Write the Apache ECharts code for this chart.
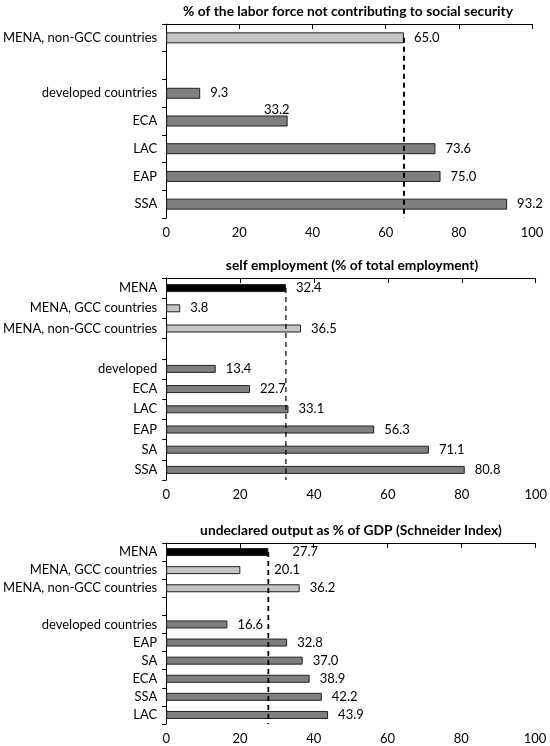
<!DOCTYPE html>
<html><head><meta charset="utf-8">
<script src="https://cdn.jsdelivr.net/npm/echarts@6/dist/echarts.min.js"></script>
<style>html,body{margin:0;padding:0;background:#fff}#c{width:550px;height:746px}</style>
</head><body><div id="c"></div>
<script>
// ---- data ----
const xTicks = [0, 20, 40, 60, 80, 100];

const title1 = '% of the labor force not contributing to social security';
const cats1 = ['MENA, non-GCC countries', '', 'developed countries', 'ECA', 'LAC', 'EAP', 'SSA'];
const vals1 = [65.0, null, 9.3, 33.2, 73.6, 75.0, 93.2];
const ref1 = 'MENA, non-GCC countries';

const title2 = 'self employment (% of total employment)';
const cats2 = ['MENA', 'MENA, GCC countries', 'MENA, non-GCC countries', '', 'developed', 'ECA', 'LAC', 'EAP', 'SA', 'SSA'];
const vals2 = [32.4, 3.8, 36.5, null, 13.4, 22.7, 33.1, 56.3, 71.1, 80.8];
const ref2 = 'MENA';

const title3 = 'undeclared output as % of GDP (Schneider Index)';
const cats3 = ['MENA', 'MENA, GCC countries', 'MENA, non-GCC countries', '', 'developed countries', 'EAP', 'SA', 'ECA', 'SSA', 'LAC'];
const vals3 = [27.7, 20.1, 36.2, null, 16.6, 32.8, 37.0, 38.9, 42.2, 43.9];
const ref3 = 'MENA';

// ---- layout / style ----
const FONT = 'Lato';
const panels = [
  {title: title1, cats: cats1, vals: vals1, ref: ref1, grid: {left: 164, right: 18, top: 24, height: 194}, titleX: 343, titleY: 0, barWidth: 11, dashW: 2,
   labelTweaks: {'ECA': {position: 'insideTopRight', distance: 0, offset: [2, -12]}}},
  {title: title2, cats: cats2, vals: vals2, ref: ref2, grid: {left: 164, right: 11, top: 278, height: 202}, titleX: 347, titleY: 254, barWidth: 8, dashW: 1.2,
   labelTweaks: {}},
  {title: title3, cats: cats3, vals: vals3, ref: ref3, grid: {left: 164, right: 15, top: 543, height: 181}, titleX: 346, titleY: 519, barWidth: 8, dashW: 1.8,
   labelTweaks: {'MENA': {distance: 24}, 'MENA, GCC countries': {distance: 34}}}
];

function colorFor(name) {
  if (name === 'MENA') return '#000000';
  if (name.indexOf('MENA,') === 0) return '#c4c4c4';
  return '#7f7f7f';
}

const option = {
  animation: false,
  backgroundColor: '#fff',
  title: [], grid: [], xAxis: [], yAxis: [], series: []
};

panels.forEach((p, i) => {
  const n = p.cats.length;
  option.title.push({
    text: p.title, left: p.titleX, top: p.titleY, textAlign: 'center',
    textStyle: {fontFamily: FONT, fontSize: 13.8, fontWeight: 'bold', color: '#000'}
  });
  option.grid.push(Object.assign({containLabel: false}, p.grid));
  option.xAxis.push({
    type: 'value', gridIndex: i, min: xTicks[0], max: xTicks[xTicks.length - 1],
    interval: xTicks[1] - xTicks[0],
    axisLine: {show: true, lineStyle: {color: '#000', width: 1}},
    axisTick: {show: true, length: 5, lineStyle: {color: '#000'}},
    splitLine: {show: false},
    axisLabel: {fontFamily: FONT, fontSize: 13, color: '#000', margin: 8}
  });
  option.yAxis.push({
    type: 'category', gridIndex: i, data: p.cats, inverse: true,
    axisLine: {show: true, lineStyle: {color: '#000', width: 1}},
    axisTick: {show: true, length: 4, lineStyle: {color: '#000'}},
    axisLabel: {fontFamily: FONT, fontSize: 13, color: '#000', margin: 9}
  });
  option.yAxis.push({
    type: 'value', gridIndex: i, min: 0, max: n, inverse: true, show: false
  });
  option.series.push({
    type: 'bar', xAxisIndex: i, yAxisIndex: 2 * i, barWidth: p.barWidth,
    data: p.cats.map((c, k) => {
      const item = {
        value: p.vals[k],
        itemStyle: {color: colorFor(c), borderColor: '#222', borderWidth: 1}
      };
      if (p.labelTweaks[c]) item.label = p.labelTweaks[c];
      return item;
    }),
    label: {
      show: true, position: 'right', distance: 10,
      fontFamily: FONT, fontSize: 13, color: '#000',
      formatter: (d) => (d.value == null ? '' : Number(d.value).toFixed(1))
    },
    z: 2
  });
  const refVal = p.vals[p.cats.indexOf(p.ref)];
  option.series.push({
    type: 'line', xAxisIndex: i, yAxisIndex: 2 * i + 1,
    data: [[refVal, 0.5], [refVal, n]],
    symbol: 'none', silent: true,
    lineStyle: {color: '#000', width: p.dashW, type: [5, 4]},
    z: 5
  });
});

const chart = echarts.init(document.getElementById('c'), null, {renderer: 'canvas'});
chart.setOption(option);
</script>
</body></html>
